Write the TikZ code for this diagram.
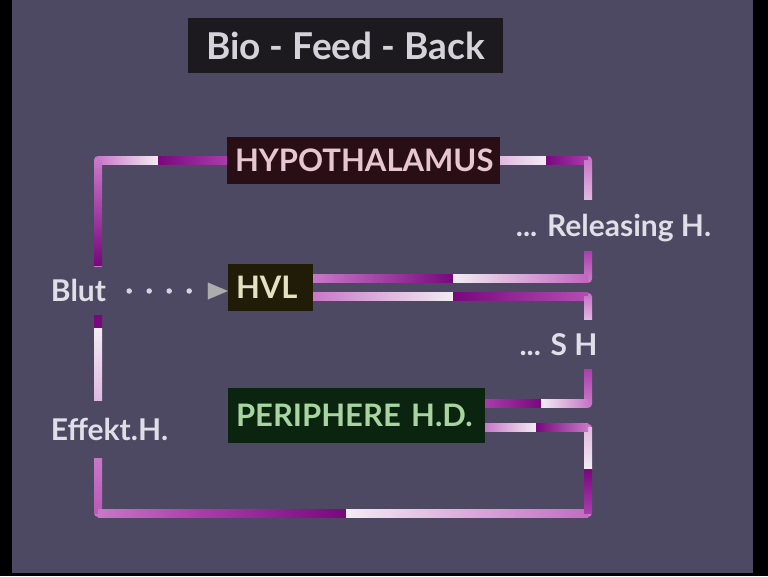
\documentclass[tikz,border=0pt]{standalone}
\usepackage{fontspec}
\setmainfont{Lato}
\usetikzlibrary{arrows.meta}
\usetikzlibrary{calc}

\definecolor{bg}{RGB}{77,73,99}
\definecolor{barD}{RGB}{120,8,125}
\definecolor{barM}{RGB}{170,60,170}
\definecolor{barP}{RGB}{200,120,200}
\definecolor{barL}{RGB}{225,185,225}
\definecolor{barW}{RGB}{242,236,242}
\definecolor{lbltext}{RGB}{224,222,230}
\definecolor{ttlfill}{RGB}{28,26,30}
\definecolor{ttltext}{RGB}{214,210,218}
\definecolor{hypfill}{RGB}{42,14,22}
\definecolor{hyptext}{RGB}{230,198,208}
\definecolor{hvlfill}{RGB}{32,28,8}
\definecolor{hvltext}{RGB}{228,226,192}
\definecolor{perfill}{RGB}{10,36,16}
\definecolor{pertext}{RGB}{168,212,160}

% gradient pieces of the bars: \hgrad{y}{x1}{x2}{left}{right}, \vgrad{x}{y1}{y2}{top}{bottom}
\newcommand{\hgrad}[5]{\shade[left color=#4,right color=#5] (#2,#1-4) rectangle (#3,#1+4);}
\newcommand{\vgrad}[5]{\shade[top color=#4,bottom color=#5] (#1-4,#2) rectangle (#1+4,#3);}

\begin{document}
\begin{tikzpicture}[x=1pt,y=-1pt,
  box/.style={inner xsep=8pt, inner ysep=0pt, minimum height=47pt, text height=22pt, text depth=0pt, align=left, font=\fontsize{31}{33}\selectfont\bfseries},
  lbl/.style={fill=bg, inner sep=0pt, text=lbltext, text height=21pt, text depth=0pt, font=\fontsize{30}{32}\selectfont\bfseries},
  bar/.style={line width=8pt, line join=round, barP},
  dotline/.style={line width=5.5pt, line cap=round, dash pattern=on 0pt off 20pt, draw=lbltext!92!bg, -{Triangle[length=20pt,width=17pt,line width=0.1pt,fill=gray!65,color=gray!65]}}]

\fill[bg] (0,0) rectangle (768,576);
\fill[black] (0,0) rectangle (12,576);
\fill[black] (753,0) rectangle (768,576);
\fill[black] (0,573) rectangle (768,576);

% boxes
\node[fill=ttlfill, text=ttltext, minimum width=315pt, minimum height=55pt, inner sep=0pt, text height=27pt, text depth=0pt, font=\fontsize{37}{40}\selectfont\bfseries] (title) at (345.5,45.5) {Bio - Feed - Back};
\node[box, fill=hypfill, text=hyptext, text width=257pt] (hyp) at (363.5,160) {HYPOTHALAMUS};
\node[box, fill=hvlfill, text=hvltext, text width=69pt] (hvl) at (270.5,287.5) {HVL};
\node[box, fill=perfill, text=pertext, text width=241pt, minimum height=55pt] (per) at (356.5,415.5) {PERIPHERE H.D.};

% corners
\coordinate (lt) at (98,160);
\coordinate (lb) at (98,513);
\coordinate (rb) at (588,513);
\coordinate (rt) at (588,160);
\coordinate (rm) at (588,350);

% connectors
\draw[bar] (hyp.west) -- (lt) -- (lb) -- (rb) |- ([yshift=-12pt]per.east);
\draw[bar] (hyp.east) -- (rt) |- ([yshift=9pt]hvl.east);
\draw[bar] ([yshift=-9pt]hvl.east) -| (rm) |- ([yshift=12pt]per.east);

% colour run along the bars
\hgrad{160}{98}{158}{barP}{barW}
\hgrad{160}{158}{227}{barD}{barM}
\vgrad{98}{160}{265}{barP}{barD}
\vgrad{98}{313}{328}{barD}{barD}
\vgrad{98}{328}{400}{barW}{barL}
\vgrad{98}{457}{513}{barP}{barM!50!barP}
\hgrad{513}{98}{200}{barP}{barM}
\hgrad{513}{200}{346}{barM}{barD}
\hgrad{513}{346}{440}{barW}{barL}
\hgrad{513}{440}{588}{barL}{barP!80!barM}
\vgrad{588}{427.5}{469}{barL}{barW}
\vgrad{588}{469}{513}{barD}{barM}
\hgrad{427.5}{485}{536}{barP}{barW}
\hgrad{427.5}{536}{588}{barD}{barP}
\hgrad{160}{500}{546}{barL}{barW}
\hgrad{160}{546}{588}{barD}{barM}
\vgrad{588}{160}{200}{barP}{barL}
\vgrad{588}{250}{278.5}{barM}{barP}
\hgrad{278.5}{313}{453}{barP}{barD}
\hgrad{278.5}{453}{588}{barW}{barP!70!barM}
\hgrad{296.5}{313}{453}{barP}{barW}
\hgrad{296.5}{453}{588}{barD}{barM!70!barP}
\vgrad{588}{296.5}{320}{barP}{barL}
\vgrad{588}{367}{403.5}{barM}{barP}
\hgrad{403.5}{485}{541}{barM}{barD}
\hgrad{403.5}{541}{588}{barW}{barP}

% labels on the bars
\node[lbl, minimum height=48pt] (blut) at (78.5,291) {Blut};
\node[lbl, minimum height=57pt] (eff) at (109.5,429.5) {Effekt.H.};
\node[lbl, minimum height=51pt] (rel) at (613.5,225.5) {... Releasing H.};
\node[lbl, minimum height=49pt] (sh) at (558.5,344.5) {... S H};

\draw[dotline] ([xshift=23pt]blut.east) -- (blut.east -| hvl.west);
\end{tikzpicture}
\end{document}
